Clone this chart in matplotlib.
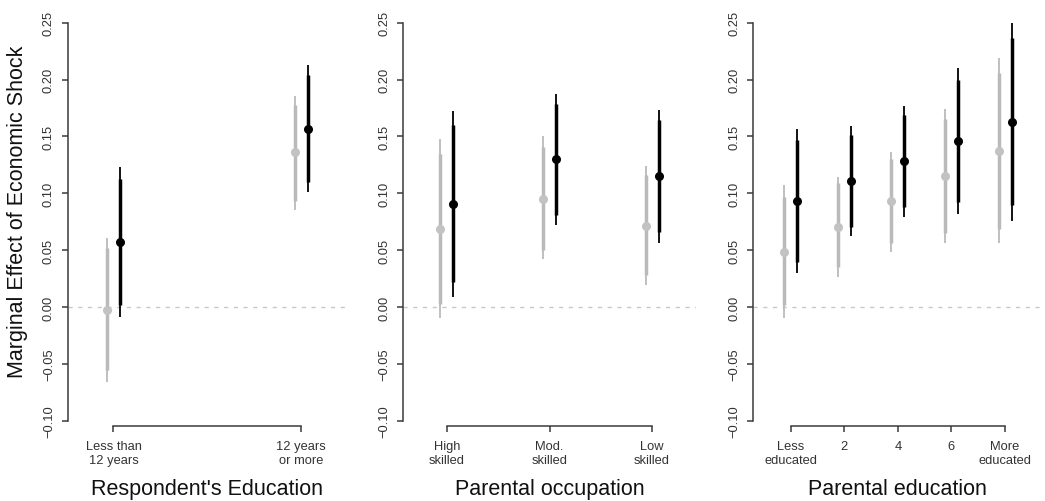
import matplotlib
matplotlib.use("Agg")
import matplotlib.pyplot as plt
from matplotlib.transforms import offset_copy

plt.rcParams["font.family"] = ["Liberation Sans", "DejaVu Sans"]

# ==============================================
# DATA

# Respondent's education
resp_labels = ["Less than\n12 years", "12 years\nor more"]
resp_gray_pt = [-0.003, 0.136]
resp_gray_in = [(-0.055, 0.052), (0.093, 0.178)]
resp_gray_out = [(-0.066, 0.061), (0.085, 0.186)]
resp_black_pt = [0.0575, 0.157]
resp_black_in = [(0.002, 0.113), (0.110, 0.204)]
resp_black_out = [(-0.0085, 0.123), (0.101, 0.213)]

# Parental occupation
occ_labels = ["High\nskilled", "Mod.\nskilled", "Low\nskilled"]
occ_gray_pt = [0.069, 0.095, 0.071]
occ_gray_in = [(0.003, 0.135), (0.050, 0.141), (0.028, 0.116)]
occ_gray_out = [(-0.010, 0.148), (0.042, 0.150), (0.019, 0.124)]
occ_black_pt = [0.0905, 0.130, 0.115]
occ_black_in = [(0.022, 0.160), (0.081, 0.1785), (0.066, 0.1645)]
occ_black_out = [(0.009, 0.172), (0.072, 0.187), (0.0565, 0.173)]

# Parental education
pedu_labels = ["Less\neducated", "2", "4", "6", "More\neducated"]
pedu_gray_pt = [0.0487, 0.0706, 0.093, 0.115, 0.137]
pedu_gray_in = [(0.002, 0.097), (0.035, 0.109), (0.056, 0.130), (0.065, 0.165), (0.069, 0.206)]
pedu_gray_out = [(-0.0097, 0.107), (0.0267, 0.1146), (0.0487, 0.1366), (0.056, 0.174), (0.0566, 0.219)]
pedu_black_pt = [0.093, 0.111, 0.128, 0.146, 0.163]
pedu_black_in = [(0.040, 0.147), (0.0706, 0.151), (0.088, 0.169), (0.092, 0.200), (0.0897, 0.2365)]
pedu_black_out = [(0.0296, 0.157), (0.0624, 0.159), (0.079, 0.177), (0.0815, 0.210), (0.076, 0.250)]

y_ticks = [-0.10, -0.05, 0.00, 0.05, 0.10, 0.15, 0.20, 0.25]

# ==============================================
# LAYOUT

W, H = 1045, 502
fig = plt.figure(figsize=(W / 100, H / 100), dpi=100)

# panel boxes in pixels: left, right, and x padding beyond first/last tick
top_px, bottom_px = 17, 427
panels_px = [(67.5, 347.0, 0.245), (403.0, 696.0, 0.429), (752.7, 1043.0, 0.709)]

GRAY = "#bababa"
GRAY_PT = "#c2c2c2"
BLACK = "#000000"
AXIS = "#3a3a3a"


def draw_estimates(ax, pts, inner, outer, color, pt_color, dx):
    trans = offset_copy(ax.transData, fig=fig, x=dx, y=0, units="dots")
    for i, (p, (ilo, ihi), (olo, ohi)) in enumerate(zip(pts, inner, outer)):
        x = i + 1
        ax.plot([x, x], [olo, ohi], color=color, lw=1.3, solid_capstyle="butt", transform=trans, zorder=3)
        ax.plot([x, x], [ilo, ihi], color=color, lw=2.5, solid_capstyle="butt", transform=trans, zorder=4)
        ax.plot([x], [p], "o", color=pt_color, ms=6.5, mec="none", transform=trans, zorder=5)


def make_panel(idx, labels, g_pt, g_in, g_out, b_pt, b_in, b_out, xlabel):
    left, right, pad = panels_px[idx]
    ax = fig.add_axes([left / W, 1 - bottom_px / H, (right - left) / W, (bottom_px - top_px) / H])
    n = len(labels)
    ax.set_xlim(1 - pad, n + pad)
    ax.set_ylim(-0.1047, 0.256)

    ax.axhline(0, color="#c8c8c8", lw=1.0, ls=(0, (3, 4)), zorder=1)

    draw_estimates(ax, g_pt, g_in, g_out, GRAY, GRAY_PT, -6.5)
    draw_estimates(ax, b_pt, b_in, b_out, BLACK, BLACK, 6.5)

    for side in ["top", "right"]:
        ax.spines[side].set_visible(False)
    for side in ["left", "bottom"]:
        ax.spines[side].set_color(AXIS)
        ax.spines[side].set_linewidth(1.1)
    ax.spines["left"].set_bounds(-0.10, 0.25)
    ax.spines["bottom"].set_bounds(1, n)

    ax.set_yticks(y_ticks)
    ax.set_yticklabels([f"{v:.2f}".replace("-", "\u2212") for v in y_ticks])
    ax.set_xticks(range(1, n + 1))
    ax.set_xticklabels(labels, linespacing=1.25)
    ax.tick_params(axis="both", direction="out", length=4.5, width=1.1, color=AXIS,
                   labelsize=9.3, labelcolor="#333333")
    ax.tick_params(axis="x", pad=5.5)
    ax.tick_params(axis="y", pad=4.5, labelrotation=90)
    for lab in ax.get_yticklabels():
        lab.set_va("center")
    ax.patch.set_visible(False)

    cx = (left + right) / 2 / W
    fig.text(cx, 1 - 490 / H, xlabel, ha="center", va="center", fontsize=15.5, color="#111111")
    return ax


make_panel(0, resp_labels, resp_gray_pt, resp_gray_in, resp_gray_out,
           resp_black_pt, resp_black_in, resp_black_out, "Respondent's Education")
make_panel(1, occ_labels, occ_gray_pt, occ_gray_in, occ_gray_out,
           occ_black_pt, occ_black_in, occ_black_out, "Parental occupation")
make_panel(2, pedu_labels, pedu_gray_pt, pedu_gray_in, pedu_gray_out,
           pedu_black_pt, pedu_black_in, pedu_black_out, "Parental education")

fig.text(18 / W, 1 - 212 / H, "Marginal Effect of Economic Shock", rotation=90,
         ha="center", va="center", fontsize=15.5, color="#111111")

fig.savefig("out.png", dpi=100)
